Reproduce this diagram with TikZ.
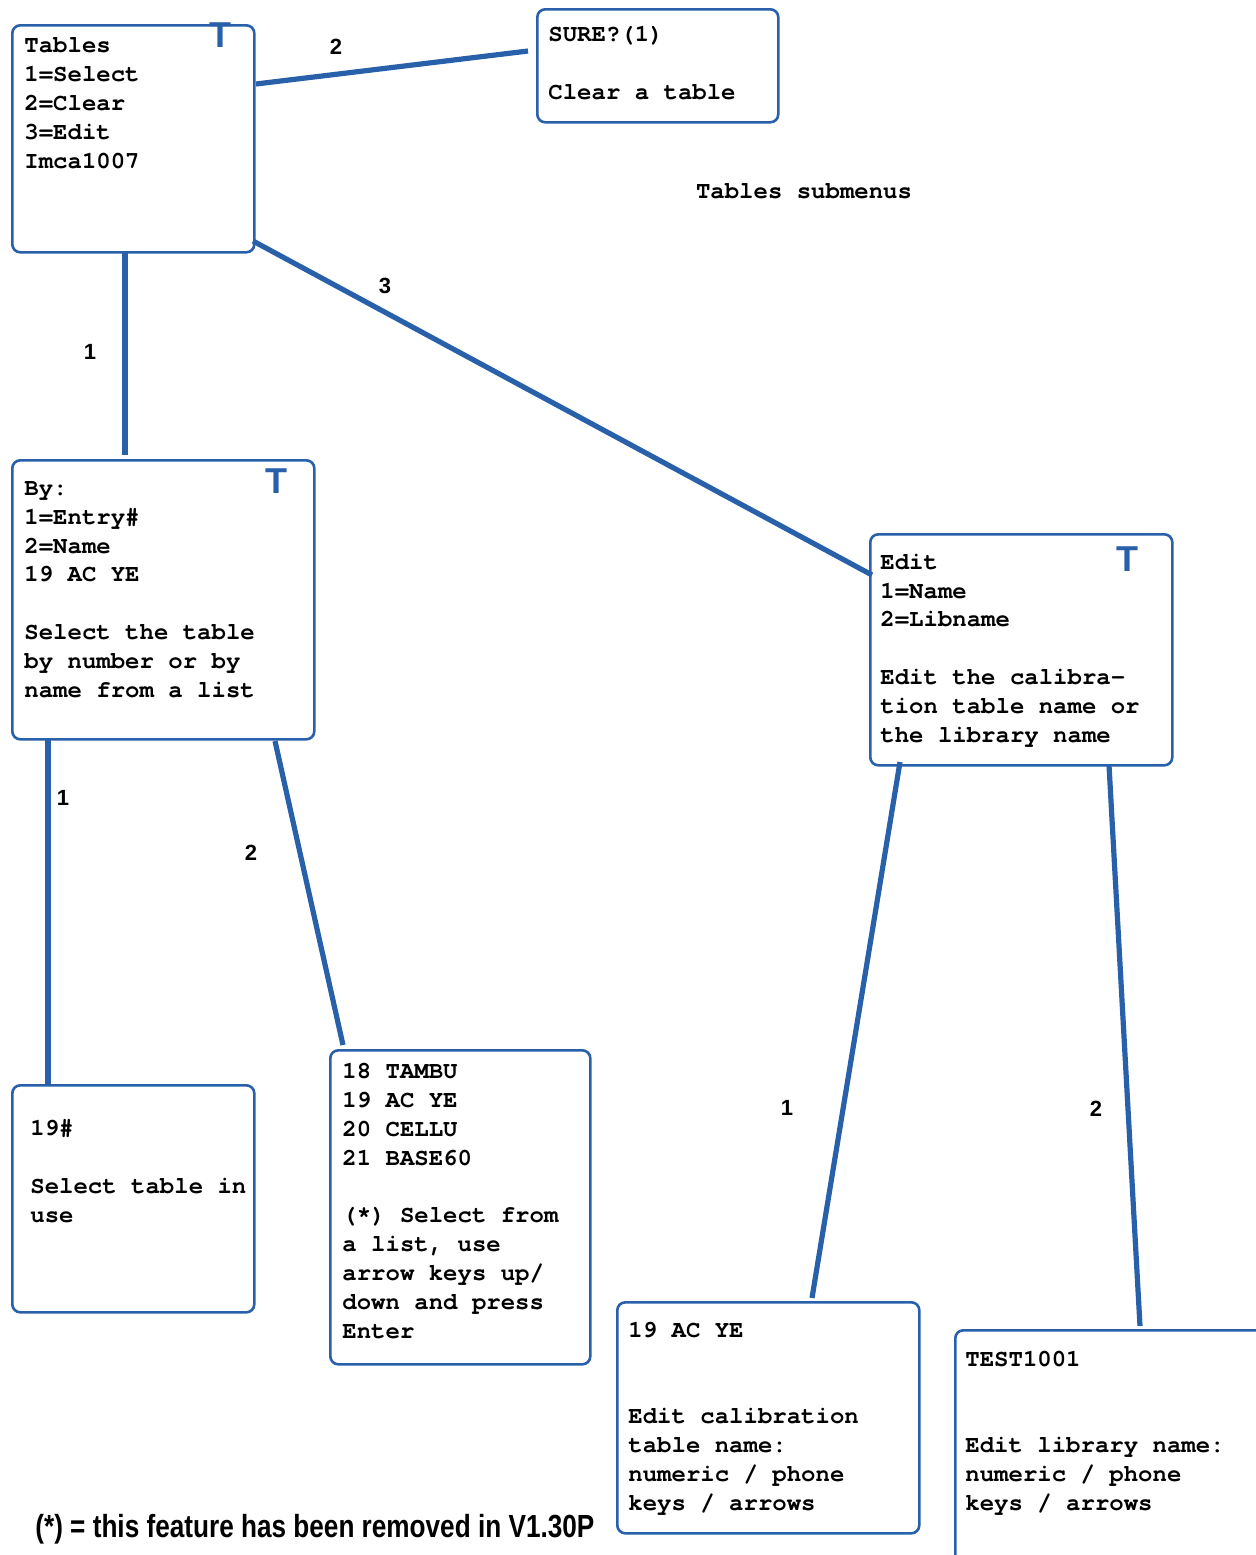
\documentclass[tikz,border=0pt]{standalone}
\usepackage{fontspec}
\setmonofont{texgyrecursor-regular.otf}[BoldFont=texgyrecursor-bold.otf]
\newfontfamily\labfont{Liberation Sans}
\usepackage{graphicx}
\definecolor{lineblue}{RGB}{40,96,170}
\begin{document}
\begin{tikzpicture}[x=0.5pt,y=-0.5pt,
  box/.style={draw=lineblue, line width=1.3pt, rounded corners=4pt, inner sep=0pt, anchor=north west},
  txt/.style={font=\ttfamily\bfseries\fontsize{12pt}{14.4pt}\selectfont, align=left, anchor=base west, inner sep=0pt},
  conn/.style={draw=lineblue, line width=2.6pt},
  lab/.style={font=\labfont\bfseries\fontsize{11pt}{12pt}\selectfont, inner sep=0pt},
  tmark/.style={font=\labfont\bfseries\fontsize{18pt}{18pt}\selectfont, text=lineblue, inner sep=0pt, anchor=north}]
\useasboundingbox (0,0) rectangle (1255,1555);

% boxes
\node[box, minimum width=121pt, minimum height=113.5pt] (tables) at (11,24) {};
\node[box, minimum width=120.5pt, minimum height=56.5pt] (sure) at (536,8) {};
\node[box, minimum width=151pt, minimum height=139.5pt] (by) at (11,459) {};
\node[box, minimum width=151pt, minimum height=115.5pt] (edit) at (869,533) {};
\node[box, minimum width=121pt, minimum height=113.5pt] (hash) at (11,1084) {};
\node[box, minimum width=130pt, minimum height=157pt] (tambu) at (329,1049) {};
\node[box, minimum width=151pt, minimum height=115.5pt] (acye) at (616,1301) {};
\node[box, minimum width=160pt, minimum height=125pt] (test) at (954,1329) {};

% T markers
\node[tmark] (t1) at (220,22) {T};
\node[tmark] (t2) at (276,468) {T};
\node[tmark] (t3) at (1127,546) {T};

% texts (base anchor = baseline of last line)
\node[txt] (tx1) at (24,168) {Tables\\1=Select\\2=Clear\\3=Edit\\Imca1007};
\node[txt] (tx2) at (548,99) {SURE?(1)\\~\\Clear a table};
\node[txt] (tx3) at (24,697) {By:\\1=Entry\#\\2=Name\\19 AC YE\\~\\Select the table\\by number or by\\name from a list};
\node[txt] (tx4) at (880,742) {Edit\\1=Name\\2=Libname\\~\\Edit the calibra-\\tion table name or\\the library name};
\node[txt] (tx5) at (30,1222) {19\#\\~\\Select table in\\use};
\node[txt] (tx6) at (342,1338) {18 TAMBU\\19 AC YE\\20 CELLU\\21 BASE60\\~\\(*) Select from\\a list, use\\arrow keys up/\\down and press\\Enter};
\node[txt] (tx7) at (628,1510) {19 AC YE\\~\\~\\Edit calibration\\table name:\\numeric / phone\\keys / arrows};
\node[txt] (tx8) at (965,1510) {TEST1001\\~\\~\\Edit library name:\\numeric / phone\\keys / arrows};
\node[txt, anchor=base] (title) at (804,198) {Tables submenus};

% connectors
\draw[conn] ([shift={(245,60)}]tables.north west) -- ([shift={(-8,43)}]sure.north west);
\draw[conn] ([shift={(114,227)}]tables.north west) -- ([shift={(114,-4)}]by.north west);
\draw[conn] ([shift={(242,217)}]tables.north west) -- ([shift={(3,42)}]edit.north west);
\draw[conn] ([shift={(37,279)}]by.north west) -- ([shift={(37,0)}]hash.north west);
\draw[conn] ([shift={(264,282)}]by.north west) -- ([shift={(14,-4)}]tambu.north west);
\draw[conn] ([shift={(31,229)}]edit.north west) -- ([shift={(196,-3)}]acye.north west);
\draw[conn] ([shift={(240,232)}]edit.north west) -- ([shift={(186,-3)}]test.north west);

% connector labels
\node[lab] (l1) at (336,47) {2};
\node[lab] (l2) at (90,352) {1};
\node[lab] (l3) at (385,286) {3};
\node[lab] (l4) at (63,798) {1};
\node[lab] (l5) at (251,853) {2};
\node[lab] (l6) at (787,1108) {1};
\node[lab] (l7) at (1096,1109) {2};

% footnote
\node[anchor=west, inner sep=0pt] (note) at (35,1529) {\resizebox{279.5pt}{\height}{\labfont\bfseries\fontsize{16pt}{16pt}\selectfont (*) = this feature has been removed in V1.30P}};
\end{tikzpicture}
\end{document}
